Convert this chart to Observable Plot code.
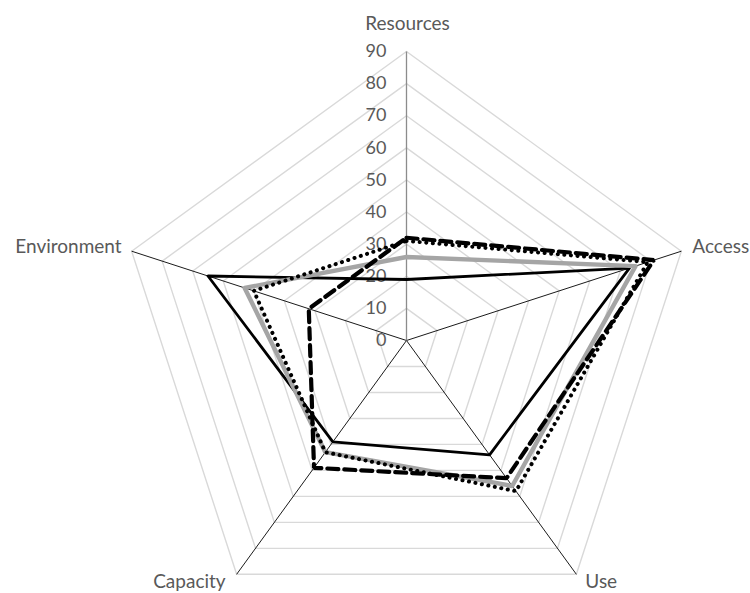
<!DOCTYPE html>
<html>
<head>
<meta charset="utf-8">
<script src="https://cdn.jsdelivr.net/npm/d3@7"></script>
<script src="https://cdn.jsdelivr.net/npm/@observablehq/plot@0.6"></script>
<style>
  html, body { margin: 0; padding: 0; background: #fff; }
</style>
</head>
<body>
<div id="chart"></div>
<script>
// ---- Data ----
const categories = ["Resources", "Access", "Use", "Capacity", "Environment"];
const tickLevels = [0, 10, 20, 30, 40, 50, 60, 70, 80, 90];
const seriesSolid  = [19, 73, 44, 39, 65];
const seriesGray   = [26, 75, 56, 43, 53];
const seriesDashed = [32, 81, 53, 49, 32];
const seriesDotted = [31, 79, 58, 43, 50];

// ---- Layout ----
const W = 750, H = 593;
const cx = 406, cy = 340, R = 289;
const maxV = 90;
const n = categories.length;
const angle = i => (2 * Math.PI * i) / n; // clockwise from top
const px = (v, i) => v * Math.sin(angle(i));
const py = (v, i) => v * Math.cos(angle(i));

const toPts = (vals, name) => vals.map((v, i) => ({series: name, cat: categories[i], x: px(v, i), y: py(v, i)}));

const gridData = tickLevels.filter(l => l > 0).flatMap(l =>
  categories.map((c, i) => ({level: l, x: px(l, i), y: py(l, i)})));
const spokeData = categories.map((c, i) => ({cat: c, x2: px(maxV, i), y2: py(maxV, i), i}));
const labelData = categories.map((c, i) => ({cat: c, x: px(maxV, i), y: py(maxV, i), i}));
const tickData = tickLevels.map(l => ({level: l, label: String(l)}));

const labelStyle = {
  Resources:   {anchor: "middle", dx: 1,   dy: -28},
  Access:      {anchor: "start",  dx: 11,  dy: -4},
  Use:         {anchor: "start",  dx: 9,   dy: 8},
  Capacity:    {anchor: "end",    dx: -11, dy: 8},
  Environment: {anchor: "end",    dx: -10, dy: -4}
};

const textColor = "#595959";
const font = "Lato, 'Open Sans', sans-serif";

const catLabelMarks = categories.map((c, i) => Plot.text([labelData[i]], {
  x: "x", y: "y", text: "cat",
  textAnchor: labelStyle[c].anchor, dx: labelStyle[c].dx, dy: labelStyle[c].dy,
  fill: textColor, fontSize: 19
}));

const chart = Plot.plot({
  width: W, height: H,
  marginTop: 0, marginBottom: 0, marginLeft: 0, marginRight: 0,
  style: {fontFamily: font, background: "#fff"},
  x: {domain: [-maxV, maxV], range: [cx - R, cx + R], axis: null},
  y: {domain: [-maxV, maxV], range: [cy + R, cy - R], axis: null},
  marks: [
    Plot.line(gridData, {x: "x", y: "y", z: "level", curve: "linear-closed", stroke: "#d9d9d9", strokeWidth: 1.4}),
    Plot.link(spokeData.filter(d => d.i > 0), {x1: 0, y1: 0, x2: "x2", y2: "y2", stroke: "#000", strokeWidth: 0.9}),
    Plot.link(spokeData.filter(d => d.i === 0), {x1: 0, y1: 0, x2: "x2", y2: "y2", stroke: "#8c8c8c", strokeWidth: 1.3}),
    Plot.text(tickData, {x: 0, y: "level", text: "label", textAnchor: "end", dx: -20, fill: textColor, fontSize: 18}),
    Plot.line(toPts(seriesSolid, "solid"), {x: "x", y: "y", curve: "linear-closed", stroke: "#000", strokeWidth: 2.8}),
    Plot.line(toPts(seriesGray, "gray"), {x: "x", y: "y", curve: "linear-closed", stroke: "#a5a5a5", strokeWidth: 4.4}),
    Plot.line(toPts(seriesDashed, "dashed"), {x: "x", y: "y", curve: "linear-closed", stroke: "#000", strokeWidth: 4.2, strokeDasharray: "11 6", strokeLinejoin: "miter"}),
    Plot.line(toPts(seriesDotted, "dotted"), {x: "x", y: "y", curve: "linear-closed", stroke: "#000", strokeWidth: 4, strokeDasharray: "0.1 6.5", strokeLinecap: "round"}),
    ...catLabelMarks
  ]
});
document.getElementById("chart").appendChild(chart);
</script>
</body>
</html>
